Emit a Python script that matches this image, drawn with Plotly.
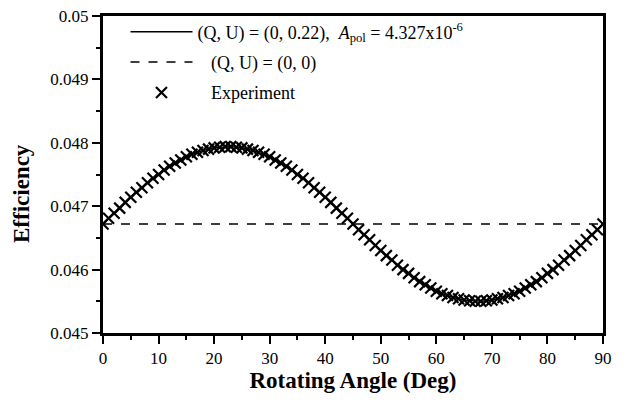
import plotly.graph_objects as go

# Rotating angle (deg) and measured efficiency
angle = list(range(0, 91))
efficiency = [
    0.04672, 0.04681, 0.04689, 0.04697, 0.04706, 0.04714, 0.04722, 0.04729, 0.04737, 0.04744,
    0.04750, 0.04757, 0.04763, 0.04768, 0.04773, 0.04778, 0.04782, 0.04785, 0.04788, 0.04790,
    0.04792, 0.04793, 0.04794, 0.04794, 0.04793, 0.04792, 0.04790, 0.04788, 0.04785, 0.04782,
    0.04778, 0.04773, 0.04768, 0.04763, 0.04757, 0.04750, 0.04744, 0.04737, 0.04729, 0.04722,
    0.04714, 0.04706, 0.04697, 0.04689, 0.04681, 0.04672, 0.04663, 0.04655, 0.04647, 0.04638,
    0.04630, 0.04622, 0.04615, 0.04607, 0.04600, 0.04594, 0.04587, 0.04581, 0.04576, 0.04571,
    0.04566, 0.04562, 0.04559, 0.04556, 0.04554, 0.04552, 0.04551, 0.04550, 0.04550, 0.04551,
    0.04552, 0.04554, 0.04556, 0.04559, 0.04562, 0.04566, 0.04571, 0.04576, 0.04581, 0.04587,
    0.04594, 0.04600, 0.04607, 0.04615, 0.04622, 0.04630, 0.04638, 0.04647, 0.04655, 0.04663,
    0.04672,
]
# Fitted model (Q, U) = (0, 0.22)
fit_angle = angle
fit_efficiency = efficiency
# Unpolarized reference (Q, U) = (0, 0)
flat_angle = [0, 90]
flat_efficiency = [0.04672, 0.04672]

x_ticks = [0, 10, 20, 30, 40, 50, 60, 70, 80, 90]
y_ticks = [0.045, 0.046, 0.047, 0.048, 0.049, 0.05]
y_tick_labels = ["0.045", "0.046", "0.047", "0.048", "0.049", "0.05"]

FONT = "Liberation Serif, Times New Roman, serif"

fig = go.Figure()
fig.add_trace(go.Scatter(
    x=fit_angle, y=fit_efficiency, mode="lines",
    line=dict(color="black", width=1.5),
    name="(Q, U) = (0, 0.22),  <i>A</i><sub>pol</sub> = 4.327x10<sup>-6</sup>",
    legendgroup="a",
))
fig.add_trace(go.Scatter(
    x=flat_angle, y=flat_efficiency, mode="lines",
    line=dict(color="black", width=1.5, dash="dash"),
    name="&nbsp;&nbsp;&nbsp;(Q, U) = (0, 0)",
    legendgroup="b",
))
fig.add_trace(go.Scatter(
    x=angle, y=efficiency, mode="markers",
    marker=dict(symbol="x-thin", size=11, color="black",
                line=dict(color="black", width=2.2)),
    name="&nbsp;&nbsp;&nbsp;Experiment",
    legendgroup="c",
))

fig.update_layout(
    width=634, height=405,
    margin=dict(l=103, r=31, t=7, b=72),
    paper_bgcolor="white", plot_bgcolor="white",
    font=dict(family=FONT, size=17, color="black"),
    showlegend=True,
    legend=dict(
        x=0.045, y=1.008, xanchor="left", yanchor="top",
        bgcolor="rgba(0,0,0,0)", itemwidth=62, tracegroupgap=4,
        font=dict(family=FONT, size=18, color="black"),
        traceorder="grouped",
    ),
    xaxis=dict(
        range=[0, 90], tickvals=x_ticks, ticks="outside", ticklen=8, tickwidth=2,
        tickcolor="black", showline=True, linewidth=3, linecolor="black", mirror=True,
        showgrid=False, zeroline=False,
        minor=dict(dtick=5, ticks="outside", ticklen=4, tickwidth=2, tickcolor="black", showgrid=False),
        title=dict(text="<b>Rotating Angle (Deg)</b>", font=dict(family=FONT, size=23), standoff=4),
        tickfont=dict(family=FONT, size=17),
    ),
    yaxis=dict(
        range=[0.045, 0.05], tickvals=y_ticks, ticktext=y_tick_labels, ticks="outside",
        ticklen=8, tickwidth=2, tickcolor="black", showline=True, linewidth=3,
        linecolor="black", mirror=True, showgrid=False, zeroline=False,
        minor=dict(tickvals=[0.0455, 0.0465, 0.0475, 0.0485, 0.0495], ticks="outside",
                   ticklen=4, tickwidth=2, tickcolor="black", showgrid=False),
        tickfont=dict(family=FONT, size=17),
    ),
    annotations=[dict(
        text="<b>Efficiency</b>", textangle=-90, xref="paper", yref="paper",
        x=-0.163, y=0.44, xanchor="center", yanchor="middle", showarrow=False,
        font=dict(family=FONT, size=23, color="black"),
    )],
)

fig.write_html("out.html")
